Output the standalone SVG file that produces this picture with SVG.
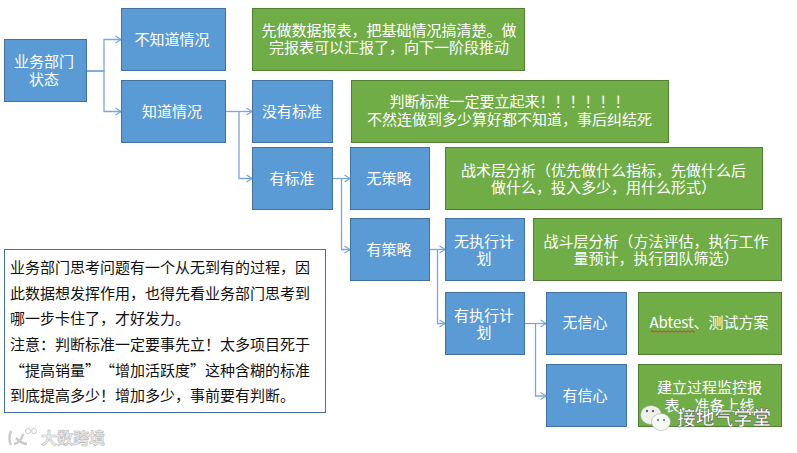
<svg xmlns="http://www.w3.org/2000/svg" width="797" height="453" viewBox="0 0 797 453">
<defs>
<marker id="a" markerUnits="userSpaceOnUse" markerWidth="10" markerHeight="12" refX="7" refY="6" orient="auto"><path d="M1.500 2.500L7 6L1.500 9.500" fill="none" stroke="#7ba7d7" stroke-width="1.2"/></marker>
</defs>
<style>
text{font-family:"Noto Sans CJK SC","Noto Sans",sans-serif;text-anchor:middle;font-size:15px;text-spacing-trim:space-all;font-feature-settings:"fwid"}
.b rect{fill:#5b9bd5;stroke:#41719c;stroke-width:1}
.g rect{fill:#70ad47;stroke:#507e32;stroke-width:1}
.b text,.g text{fill:#fff}
.c path{fill:none;stroke:#7ba7d7;stroke-width:1.3;marker-end:url(#a)}
.n text{fill:#111;text-anchor:start}
.w{fill:#eef1ea;stroke:#9a9a9a;stroke-width:.5}
</style>
<rect width="797" height="453" fill="#fff"/>
<g class="c" id="connectors">
<path d="M87 71H104V39.500H121"/><path d="M87 71H104V111.500H121"/>
<path d="M226 111.500H252"/><path d="M239 111.500V178.500H252"/>
<path d="M333 178.500H350"/><path d="M341.500 178.500V249.500H350"/>
<path d="M430 249.500H445"/><path d="M437.500 249.500V323.500H445"/>
<path d="M525 323.500H546"/><path d="M535.500 323.500V396H546"/>
</g>
<g class="b" id="n-dept"><rect x="4.500" y="39.500" width="82" height="62"/><text x="44" y="67">业务部门</text><text x="44" y="85">状态</text></g>
<g class="b" id="n-unknown"><rect x="121.500" y="8.500" width="104" height="62"/><text x="172" y="44.500">不知道情况</text></g>
<g class="b" id="n-known"><rect x="121.500" y="80.500" width="104" height="62"/><text x="172" y="116.500">知道情况</text></g>
<g class="b" id="n-nostd"><rect x="252.500" y="80.500" width="80" height="62"/><text x="292" y="116.500">没有标准</text></g>
<g class="b" id="n-std"><rect x="252.500" y="147.500" width="80" height="62"/><text x="292" y="183.500">有标准</text></g>
<g class="b" id="n-nostrat"><rect x="350.500" y="147.500" width="79" height="62"/><text x="389" y="183.500">无策略</text></g>
<g class="b" id="n-strat"><rect x="350.500" y="218.500" width="79" height="62"/><text x="389" y="254.500">有策略</text></g>
<g class="b" id="n-noplan"><rect x="445.500" y="218.500" width="79" height="62"/><text x="484" y="247">无执行计</text><text x="484" y="264">划</text></g>
<g class="b" id="n-plan"><rect x="445.500" y="292.500" width="79" height="62"/><text x="484" y="320.500">有执行计</text><text x="484" y="337.500">划</text></g>
<g class="b" id="n-noconf"><rect x="546.500" y="292.500" width="80" height="62"/><text x="585" y="328">无信心</text></g>
<g class="b" id="n-conf"><rect x="546.500" y="364.500" width="80" height="62"/><text x="585" y="400.500">有信心</text></g>
<g class="g" id="g-report"><rect x="252.500" y="8.500" width="272" height="62"/><text x="389" y="35.500">先做数据报表，把基础情况搞清楚。做</text><text x="389" y="53">完报表可以汇报了，向下一阶段推动</text></g>
<g class="g" id="g-std"><rect x="351.500" y="80.500" width="317" height="62"/><text x="509.500" y="106.500">判断标准一定要立起来！！！！！！</text><text x="509.500" y="124.500">不然连做到多少算好都不知道，事后纠结死</text></g>
<g class="g" id="g-tactic"><rect x="445.500" y="147.500" width="317" height="62"/><text x="603.500" y="175.500">战术层分析（优先做什么指标，先做什么后</text><text x="603.500" y="193">做什么，投入多少，用什么形式）</text></g>
<g class="g" id="g-battle"><rect x="533.500" y="218.500" width="248" height="62"/><text x="656" y="246.500">战斗层分析（方法评估，执行工作</text><text x="656" y="263.500">量预计，执行团队筛选）</text></g>
<g class="g" id="g-ab"><rect x="638.500" y="292.500" width="143" height="62"/><text x="709" y="328" style="font-feature-settings:normal">Abtest、测试方案</text><path d="M651 331.500q1-1.500 2 0t2 0t2 0t2 0t2 0t2 0t2 0t2 0t2 0t2 0t2 0t2 0t2 0t2 0t2 0t2 0t2 0t2 0t2 0t2 0t2 0t2 0" fill="none" stroke="#d33" stroke-width="1"/></g>
<g class="g" id="g-monitor"><rect x="638.500" y="364.500" width="143" height="62"/><text x="709.500" y="393">建立过程监控报</text><text x="709.500" y="410.500">表，准备上线</text></g>
<g class="n" id="note"><rect x="4.500" y="249.500" width="321" height="163" fill="#fff" stroke="#41719c"/>
<text x="10" y="273">业务部门思考问题有一个从无到有的过程，因</text>
<text x="10" y="298.500">此数据想发挥作用，也得先看业务部门思考到</text>
<text x="10" y="323.500">哪一步卡住了，才好发力。</text>
<text x="10" y="349.500">注意：判断标准一定要事先立！太多项目死于</text>
<text x="10" y="375.500">“提高销量”“增加活跃度”这种含糊的标准</text>
<text x="10" y="401">到底提高多少！增加多少，事前要有判断。</text></g>
<g id="watermarks">
<path d="M11 431c-2 5-2 10 0 14M14 444c5-1 8-5 9-10M16 438c3 3 7 6 11 6" fill="none" stroke="#ccc" stroke-width="2.500"/>
<circle cx="28" cy="431" r="2.500" fill="none" stroke="#ccc"/><circle cx="34" cy="431" r="2.500" fill="none" stroke="#ccc"/>
<text x="73" y="444" style="font-size:16px;font-weight:700;fill:#eee;stroke:#bdbdbd;stroke-width:.6">大数跨境</text>
<text x="724" y="425" style="font-size:18.800px;font-weight:700;fill:#fff;stroke:#555;stroke-width:.5">接地气学堂</text>
<ellipse class="w" cx="651" cy="415" rx="10.500" ry="9.500"/>
<ellipse class="w" cx="661" cy="422" rx="9.500" ry="8.500" style="fill:#f8faf4"/>
<g fill="#666"><circle cx="647" cy="411" r="1.200"/><circle cx="653" cy="411" r="1.200"/><circle cx="658" cy="420" r="1"/><circle cx="664" cy="420" r="1"/></g>
</g>
</svg>
